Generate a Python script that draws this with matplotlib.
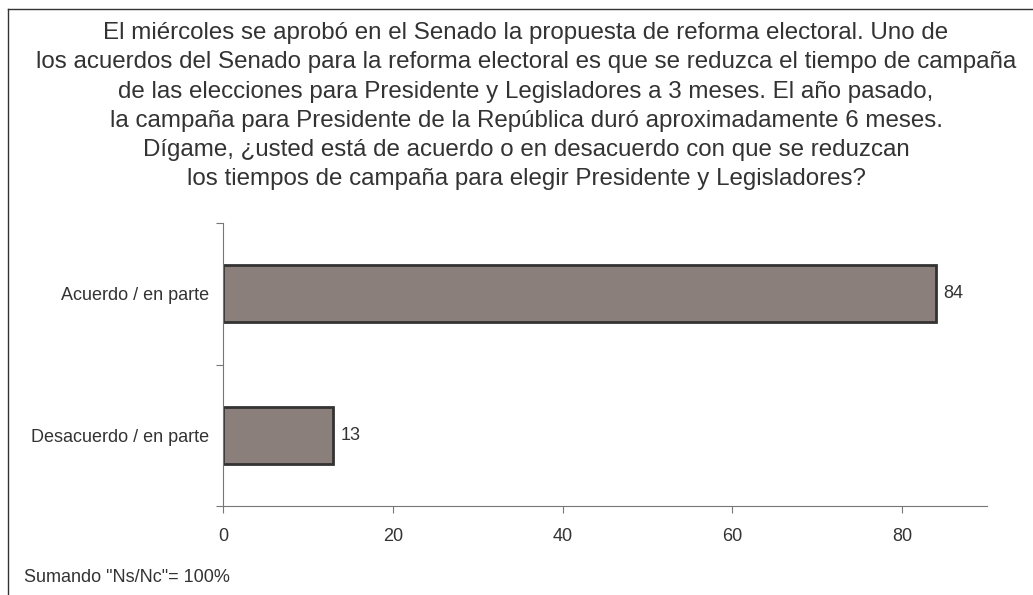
import matplotlib.pyplot as plt
from matplotlib.lines import Line2D

plt.rcParams['font.family'] = ['Liberation Sans', 'DejaVu Sans']

# data
categories = ['Acuerdo / en parte', 'Desacuerdo / en parte']
values = [84, 13]
title = ('El miércoles se aprobó en el Senado la propuesta de reforma electoral. Uno de\n'
         'los acuerdos del Senado para la reforma electoral es que se reduzca el tiempo de campaña\n'
         'de las elecciones para Presidente y Legisladores a 3 meses. El año pasado,\n'
         'la campaña para Presidente de la República duró aproximadamente 6 meses.\n'
         'Dígame, ¿usted está de acuerdo o en desacuerdo con que se reduzcan\n'
         'los tiempos de campaña para elegir Presidente y Legisladores?')
note = 'Sumando "Ns/Nc"= 100%'

W, H = 1033, 595
fig = plt.figure(figsize=(W / 100, H / 100), dpi=100)
ax = fig.add_axes([223 / W, 1 - 506 / H, (987 - 223) / W, (506 - 223) / H])

ypos = list(range(len(categories)))
ax.barh(ypos, values, height=0.4, color='#8b7f7b', edgecolor='#333333', linewidth=2)
for y, v in zip(ypos, values):
    ax.text(v + 0.8, y, str(v), va='center', ha='left', fontsize=13, color='#333333')

ax.set_ylim(1.5, -0.5)
ax.set_xlim(0, 90)
ax.set_xticks([0, 20, 40, 60, 80])
ax.set_yticks([-0.5, 0.5, 1.5], minor=False)
ax.set_yticklabels(['', '', ''])
ax.set_yticks(ypos, minor=True)
ax.set_yticklabels(categories, minor=True)
ax.tick_params(axis='y', which='minor', length=0, pad=10, labelsize=13, labelcolor='#333333')
ax.tick_params(axis='y', which='major', length=5, color='#777777')
ax.tick_params(axis='x', length=5, color='#777777', labelsize=13, labelcolor='#333333', pad=11)
for s in ['top', 'right']:
    ax.spines[s].set_visible(False)
for s in ['left', 'bottom']:
    ax.spines[s].set_color('#777777')

# title placed by the baseline of its last line
fig.text(526 / W, 1 - 185 / H, title, ha='center', va='baseline', fontsize=17.4,
         color='#333333', linespacing=1.42, multialignment='center')
fig.text(24 / W, 1 - 577 / H, note, ha='left', va='center', fontsize=13, color='#333333')

# frame lines (left and top edges)
fig.add_artist(Line2D([8 / W, 8 / W], [0, 1 - 9 / H], color='#333333', lw=1, transform=fig.transFigure))
fig.add_artist(Line2D([8 / W, 1], [1 - 9 / H, 1 - 9 / H], color='#333333', lw=1, transform=fig.transFigure))

fig.savefig('out.png', dpi=100)
